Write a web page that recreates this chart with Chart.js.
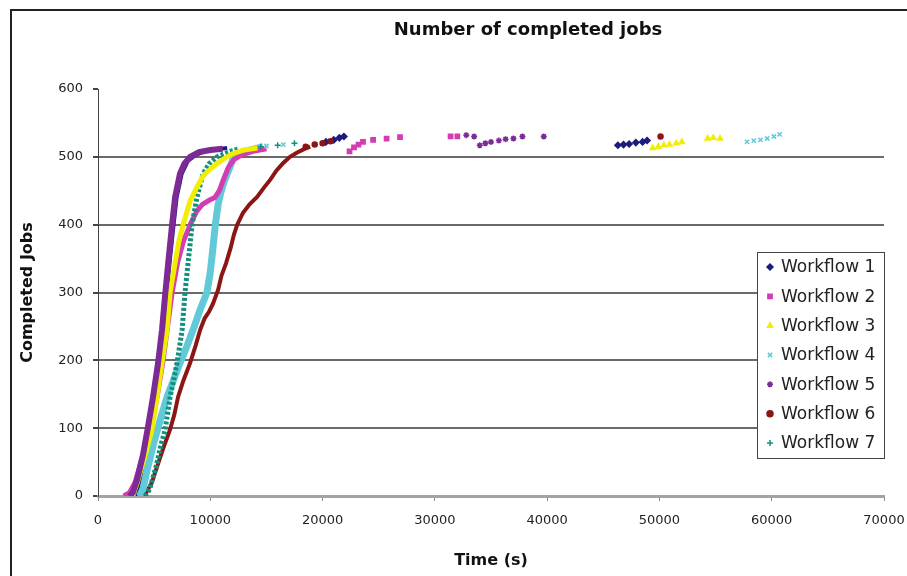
<!DOCTYPE html>
<html>
<head>
<meta charset="utf-8">
<title>Number of completed jobs</title>
<script src="https://cdn.jsdelivr.net/npm/chart.js@4/dist/chart.umd.min.js"></script>
<style>
  html, body { margin: 0; padding: 0; background: #fff; }
</style>
</head>
<body>
<canvas id="jobsChart" width="907" height="576"></canvas>
<script>
/*=============== DATA ===============*/

// names shown in the legend
const workflowNames = ["Workflow 1", "Workflow 2", "Workflow 3", "Workflow 4", "Workflow 5", "Workflow 6", "Workflow 7"];

// axis ticks
const timeTicks = [0, 10000, 20000, 30000, 40000, 50000, 60000, 70000];
const jobTicks = [0, 100, 200, 300, 400, 500, 600];

// main ramp of each workflow: [time (s), completed jobs]
const wf1Curve = [[3300, 0], [3700, 20], [4300, 70], [4800, 120], [5300, 175], [5700, 230], [6050, 290], [6350, 340], [6700, 395], [7000, 440], [7450, 475], [8000, 494], [8700, 503], [9500, 508], [10500, 511], [11500, 513]];
const wf2Curve = [[2300, 0], [2800, 5], [3300, 20], [4000, 60], [4700, 100], [5300, 150], [5800, 200], [6200, 250], [6600, 300], [7100, 345], [7600, 375], [8200, 400], [8800, 420], [9300, 430], [9900, 436], [10400, 440], [10800, 450], [11200, 468], [11600, 484], [12100, 496], [12800, 503], [13800, 508], [15000, 512]];
const wf3Curve = [[3100, 0], [3500, 20], [4200, 60], [4800, 97], [5260, 146], [5700, 196], [6150, 245], [6420, 300], [6860, 343], [7200, 375], [7580, 400], [8200, 435], [8800, 455], [9360, 472], [10000, 482], [10600, 490], [11300, 498], [12030, 505], [13000, 510], [14200, 513]];
const wf4Curve = [[3700, 0], [4000, 10], [4400, 40], [5000, 80], [5500, 110], [6150, 146], [6700, 170], [7300, 196], [7900, 220], [8470, 245], [9100, 275], [9700, 300], [10000, 330], [10200, 360], [10450, 400], [10700, 430], [10900, 445], [11200, 462], [11500, 475], [11800, 487], [12100, 500], [12700, 505], [13500, 510], [14700, 515]];
const wf5Curve = [[2800, 0], [3100, 5], [3500, 25], [4000, 60], [4400, 97], [4900, 146], [5350, 196], [5700, 245], [6000, 300], [6250, 343], [6600, 400], [6870, 441], [7300, 475], [7700, 490], [8200, 500], [9000, 507], [10000, 510], [11100, 512]];
const wf6Curve = [[3800, 0], [4300, 5], [4800, 20], [5300, 45], [5800, 70], [6400, 97], [6800, 120], [7130, 146], [7600, 170], [8200, 196], [8700, 222], [9100, 245], [9500, 262], [9900, 272], [10250, 284], [10700, 304], [11000, 325], [11400, 343], [11800, 365], [12100, 385], [12400, 400], [12900, 417], [13500, 430], [14170, 441], [14800, 455], [15330, 466], [15900, 480], [16500, 491], [17100, 500], [17700, 506], [18300, 511], [18900, 515]];
const wf7Curve = [[4200, 0], [4600, 10], [5200, 45], [5600, 75], [5970, 97], [6420, 146], [7040, 196], [7490, 245], [7750, 300], [8020, 343], [8380, 400], [8820, 441], [9360, 475], [9900, 490], [10600, 500], [11760, 508], [12600, 512]];

// straggler jobs finishing late
const wf1Tail = [[20300, 522], [21000, 525], [21500, 528], [21900, 530], [46300, 517], [46800, 518], [47300, 519], [47900, 521], [48500, 522], [48900, 524]];
const wf2Tail = [[22400, 508], [22800, 514], [23200, 518], [23600, 522], [24500, 525], [25700, 527], [26900, 529], [31400, 530], [32000, 530]];
const wf3Tail = [[49400, 513], [49900, 515], [50400, 517], [50900, 518], [51500, 520], [52000, 522], [54300, 527], [54800, 528], [55400, 527]];
const wf4Tail = [[15000, 516], [16500, 518], [57800, 522], [58400, 524], [59000, 525], [59600, 527], [60200, 530], [60700, 533]];
const wf5Tail = [[32800, 532], [33500, 530], [34000, 517], [34500, 520], [35000, 522], [35700, 524], [36300, 526], [37000, 527], [37800, 530], [39700, 530]];
const wf6Tail = [[18500, 515], [19300, 518], [20000, 520], [20700, 523], [50100, 530]];
const wf7Tail = [[14500, 515], [16000, 517], [17500, 520]];

/*=============== STYLE ===============*/

const colors = ["#1c1c7e", "#d43cb2", "#f2ee00", "#62c9d8", "#7b2a96", "#8a1616", "#11907f"];
const markers = ["rectRot", "rect", "triangle", "crossRot", "star", "circle", "cross"];
const lineWidths = [4, 5, 5, 7, 6, 4, 5];
const drawOrder = [6, 3, 1, 4, 0, 5, 2];

const curves = [wf1Curve, wf2Curve, wf3Curve, wf4Curve, wf5Curve, wf6Curve, wf7Curve];
const tails = [wf1Tail, wf2Tail, wf3Tail, wf4Tail, wf5Tail, wf6Tail, wf7Tail];

const toPoints = (rows) => rows.map(([x, y]) => ({ x, y }));

const datasets = [];
workflowNames.forEach((name, i) => {
  datasets.push({
    label: name,
    data: toPoints(curves[i]),
    showLine: true,
    borderColor: colors[i],
    backgroundColor: colors[i],
    borderWidth: lineWidths[i],
    borderDash: i === 6 ? [3, 2] : [],
    pointRadius: 0,
    tension: 0,
    order: drawOrder[i] + 10,
  });
  datasets.push({
    label: name + " (late)",
    data: toPoints(tails[i]),
    showLine: false,
    borderColor: colors[i],
    backgroundColor: colors[i],
    pointStyle: markers[i],
    pointRadius: i === 5 ? 2.5 : 3,
    borderWidth: 1.5,
    order: drawOrder[i],
  });
});

/*=============== PLUGIN: frame, title, legend ===============*/

const decorations = {
  id: "decorations",
  beforeDraw(chart) {
    const c = chart.ctx;
    c.save();
    c.fillStyle = "#fff";
    c.fillRect(0, 0, chart.width, chart.height);
    c.strokeStyle = "#222";
    c.lineWidth = 2;
    c.beginPath();
    c.moveTo(11, chart.height);
    c.lineTo(11, 10);
    c.lineTo(chart.width, 10);
    c.stroke();
    c.restore();
  },
  afterDraw(chart) {
    const c = chart.ctx;
    c.save();
    // title
    c.fillStyle = "#111";
    c.font = 'bold 18px "DejaVu Sans"';
    c.textAlign = "center";
    c.textBaseline = "middle";
    c.fillText("Number of completed jobs", 528, 30);

    // legend box
    const box = { x: 757, y: 252, w: 127, h: 206 };
    c.fillStyle = "#fff";
    c.fillRect(box.x, box.y, box.w, box.h);
    c.strokeStyle = "#444";
    c.lineWidth = 1;
    c.strokeRect(box.x + 0.5, box.y + 0.5, box.w, box.h);

    c.font = '17px "DejaVu Sans"';
    c.textAlign = "left";
    workflowNames.forEach((name, i) => {
      const y = 267 + i * 29.33;
      c.fillStyle = colors[i];
      c.strokeStyle = colors[i];
      c.lineWidth = 1.5;
      Chart.helpers.drawPoint(c, {
        pointStyle: markers[i],
        radius: 3,
        borderWidth: 1.5,
        rotation: 0,
      }, 770, y);
      c.fillStyle = "#222";
      c.fillText(name, 781, y + 1);
    });
    c.restore();
  },
};

/*=============== CHART ===============*/

const ctx = document.getElementById("jobsChart").getContext("2d");
const jobsChart = new Chart(ctx, {
  type: "scatter",
  data: { datasets },
  options: {
    responsive: false,
    animation: false,
    layout: { padding: { left: 0, top: 89, right: 23, bottom: 0 } },
    plugins: {
      legend: { display: false },
      title: { display: false },
      tooltip: { enabled: false },
    },
    scales: {
      x: {
        type: "linear",
        min: timeTicks[0],
        max: timeTicks[timeTicks.length - 1],
        afterBuildTicks: (scale) => { scale.ticks = timeTicks.map((v) => ({ value: v })); },
        afterFit: (scale) => {
          scale.height = 80;
          scale.paddingRight = 0;
          scale.paddingLeft = 0;
        },
        border: { color: "#a3a3a3", width: 3 },
        grid: { drawOnChartArea: false, tickLength: 5, tickColor: "#888" },
        ticks: {
          padding: 12,
          color: "#222",
          font: { family: "DejaVu Sans", size: 13 },
          callback: (v) => String(v),
        },
        title: {
          display: true,
          text: "Time (s)",
          color: "#111",
          font: { family: "DejaVu Sans", size: 16, weight: "bold" },
          padding: { top: 0, bottom: 6 },
        },
      },
      y: {
        type: "linear",
        min: jobTicks[0],
        max: jobTicks[jobTicks.length - 1],
        afterBuildTicks: (scale) => { scale.ticks = jobTicks.map((v) => ({ value: v })); },
        afterFit: (scale) => { scale.width = 98; },
        border: { color: "#444", width: 1 },
        grid: {
          color: (c) => (c.tick && (c.tick.value === 0 || c.tick.value === 600) ? "rgba(0,0,0,0)" : "#6a6a6a"),
          lineWidth: 2,
          tickLength: 5,
          tickColor: "#444",
        },
        ticks: {
          padding: 10,
          color: "#222",
          font: { family: "DejaVu Sans", size: 13 },
        },
        title: {
          display: true,
          text: "Completed Jobs",
          color: "#111",
          font: { family: "DejaVu Sans", size: 16, weight: "bold" },
          padding: { top: 18, bottom: 0 },
        },
      },
    },
  },
  plugins: [decorations],
});
</script>
</body>
</html>
